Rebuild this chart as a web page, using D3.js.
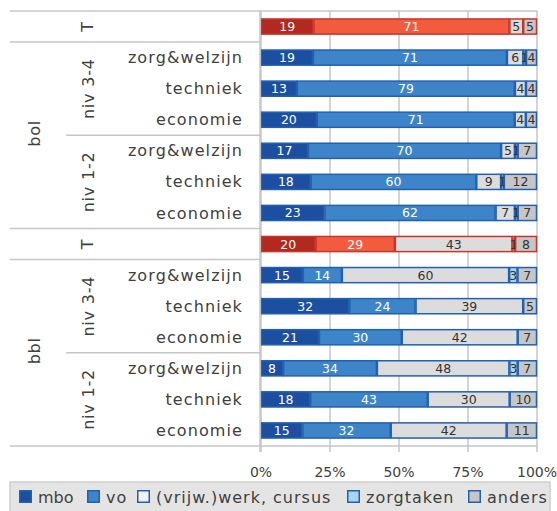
<!DOCTYPE html>
<html>
<head>
<meta charset="utf-8">
<script src="https://cdn.jsdelivr.net/npm/d3@7"></script>
<style>
    body { margin: 0; background: #fff; }
    svg { display: block; font-family: "DejaVu Sans", sans-serif; }
</style>
</head>
<body>
<div class="chart"></div>
<script>
// rows top to bottom
const rowLabels = ["T", "zorg&welzijn", "techniek", "economie", "zorg&welzijn", "techniek", "economie",
                   "T", "zorg&welzijn", "techniek", "economie", "zorg&welzijn", "techniek", "economie"];
const totalRows = [0, 7];
const groups = [
    { label: "niv 3-4", from: 1, to: 3 },
    { label: "niv 1-2", from: 4, to: 6 },
    { label: "niv 3-4", from: 8, to: 10 },
    { label: "niv 1-2", from: 11, to: 13 }
];
const types = [
    { label: "bol", from: 1, to: 6 },
    { label: "bbl", from: 8, to: 13 }
];

const seriesNames = ["mbo", "vo", "(vrijw.)werk, cursus", "zorgtaken", "anders"];
const mbo    = [19, 19, 13, 20, 17, 18, 23, 20, 15, 32, 21,  8, 18, 15];
const vo     = [71, 71, 79, 71, 70, 60, 62, 29, 14, 24, 30, 34, 43, 32];
const werk   = [ 5,  6,  4,  4,  5,  9,  7, 43, 60, 39, 42, 48, 30, 42];
const zorg   = [ 0,  1,  0,  0,  1,  1,  1,  1,  3,  0,  0,  3,  0,  0];
const anders = [ 5,  4,  4,  4,  7, 12,  7,  8,  7,  5,  7,  7, 10, 11];
const xTicks = [0, 0.25, 0.5, 0.75, 1];

const blueFill = ["#1c4f9f", "#3d85c8", "#dcdcdc", "#a6d6f0", "#c6c6c6"];
const redFill  = ["#b3281f", "#f25b3d", "#dcdcdc", "#f8b4a4", "#c6c6c6"];
const blueStroke = "#2160b2";
const redStroke = "#c8352a";
const gridColor = "#c6c6c6";
const textColor = "#404040";

const W = 557, H = 511;
const plot = { left: 261, right: 537, top: 11, bottom: 446 };

const data = rowLabels.map((label, i) => ({
    row: i,
    mbo: mbo[i], vo: vo[i], werk: werk[i], zorg: zorg[i], anders: anders[i]
}));
const keys = ["mbo", "vo", "werk", "zorg", "anders"];
const raw = { mbo, vo, werk, zorg, anders };

const stacked = d3.stack().keys(keys).offset(d3.stackOffsetExpand)(data);

const x = d3.scaleLinear().domain([0, 1]).range([plot.left, plot.right]);
const y = d3.scaleBand()
    .domain(d3.range(rowLabels.length))
    .range([plot.top, plot.bottom])
    .paddingInner(0.48)
    .paddingOuter(0.24);
const step = y.step();
const rowTop = i => plot.top + i * step;
const rowMid = i => plot.top + (i + 0.5) * step;

const svg = d3.select(".chart").append("svg")
    .attr("width", W)
    .attr("height", H);

// gridlines
svg.append("g")
    .selectAll("line")
    .data(xTicks)
    .join("line")
    .attr("x1", d => x(d)).attr("x2", d => x(d))
    .attr("y1", plot.top).attr("y2", plot.bottom + 6)
    .attr("stroke", gridColor)
    .attr("stroke-width", 1.5);

// plot top / bottom border
[plot.top, plot.bottom].forEach(v => {
    svg.append("line")
        .attr("x1", plot.left).attr("x2", plot.right)
        .attr("y1", v).attr("y2", v)
        .attr("stroke", gridColor)
        .attr("stroke-width", 1.5);
});

// table separator lines on the left
const seps = [
    { at: 0, x0: 10 }, { at: 1, x0: 10 }, { at: 4, x0: 66 }, { at: 7, x0: 10 },
    { at: 8, x0: 10 }, { at: 11, x0: 66 }, { at: 14, x0: 10 }
];
svg.append("g")
    .selectAll("line")
    .data(seps)
    .join("line")
    .attr("x1", d => d.x0).attr("x2", plot.left)
    .attr("y1", d => rowTop(d.at)).attr("y2", d => rowTop(d.at))
    .attr("stroke", gridColor)
    .attr("stroke-width", 1.5);

// bars
const isTotal = i => totalRows.includes(i);
stacked.forEach((layer, k) => {
    svg.append("g")
        .selectAll("rect")
        .data(layer)
        .join("rect")
        .attr("x", d => x(d[0]) + 0.5)
        .attr("width", d => Math.max(0, x(d[1]) - x(d[0]) - 1))
        .attr("y", d => y(d.data.row) + 0.5)
        .attr("height", y.bandwidth() - 1)
        .attr("fill", d => isTotal(d.data.row) ? redFill[k] : blueFill[k])
        .attr("stroke", d => isTotal(d.data.row) ? redStroke : blueStroke)
        .attr("stroke-width", d => (d[1] - d[0]) > 0 ? 1.5 : 0);

    svg.append("g")
        .selectAll("text")
        .data(layer.filter(d => raw[keys[k]][d.data.row] > 0))
        .join("text")
        .attr("x", d => x((d[0] + d[1]) / 2))
        .attr("y", d => y(d.data.row) + y.bandwidth() / 2)
        .attr("dy", "0.36em")
        .attr("text-anchor", "middle")
        .attr("font-size", 12.5)
        .attr("fill", k < 2 ? "#ffffff" : "#333333")
        .text(d => raw[keys[k]][d.data.row]);
});

// left axis line
svg.append("line")
    .attr("x1", plot.left - 1).attr("x2", plot.left - 1)
    .attr("y1", plot.top).attr("y2", plot.bottom + 6)
    .attr("stroke", gridColor)
    .attr("stroke-width", 1.5);

// x axis labels
svg.append("g")
    .selectAll("text")
    .data(xTicks)
    .join("text")
    .attr("x", d => x(d))
    .attr("y", 477)
    .attr("text-anchor", "middle")
    .attr("font-size", 14)
    .attr("fill", textColor)
    .text(d => d3.format(".0%")(d));

// category labels
svg.append("g")
    .selectAll("text")
    .data(rowLabels.map((l, i) => ({ l, i })).filter(d => !isTotal(d.i)))
    .join("text")
    .attr("x", 243)
    .attr("y", d => rowMid(d.i))
    .attr("dy", "0.35em")
    .attr("text-anchor", "end")
    .attr("font-size", 16)
    .attr("letter-spacing", 1.1)
    .attr("fill", textColor)
    .text(d => d.l);

// rotated labels
function vertical(label, cx, cy) {
    svg.append("text")
        .attr("transform", `translate(${cx},${cy}) rotate(-90)`)
        .attr("text-anchor", "middle")
        .attr("dy", "0.35em")
        .attr("font-size", 16)
        .attr("letter-spacing", 0.8)
        .attr("fill", textColor)
        .text(label);
}
totalRows.forEach(i => vertical("T", 87, rowMid(i)));
groups.forEach(g => vertical(g.label, 88, (rowTop(g.from) + rowTop(g.to + 1)) / 2));
types.forEach(t => vertical(t.label, 34, (rowTop(t.from) + rowTop(t.to + 1)) / 2 - 2));

// legend
const legend = svg.append("g");
legend.append("rect")
    .attr("x", 10).attr("y", 482)
    .attr("width", 540).attr("height", 40)
    .attr("fill", "#e4e4e4")
    .attr("stroke", "#cfcfcf")
    .attr("stroke-width", 1.5);

const legendX = [19, 87, 137, 347, 468];
seriesNames.forEach((name, k) => {
    const lx = legendX[k];
    legend.append("rect")
        .attr("x", lx + 0.75).attr("y", 490.75)
        .attr("width", 11.5).attr("height", 11.5)
        .attr("fill", k === 2 ? "#f2f2f2" : blueFill[k])
        .attr("stroke", blueStroke)
        .attr("stroke-width", 1.5);
    legend.append("text")
        .attr("x", lx + 19)
        .attr("y", 503)
        .attr("font-size", 16)
        .attr("letter-spacing", k === 0 ? 0 : 1)
        .attr("fill", textColor)
        .text(name);
});
</script>
</body>
</html>
